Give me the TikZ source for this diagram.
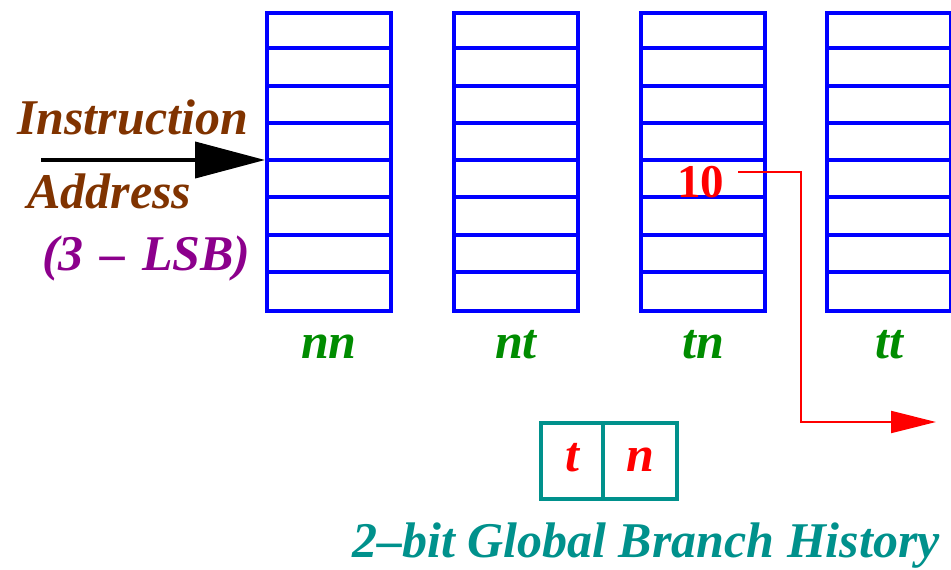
\documentclass[tikz,border=0pt]{standalone}
\usepackage{fontspec}
\setmainfont{Liberation Serif}
\usetikzlibrary{arrows.meta}
\definecolor{tblue}{RGB}{0,0,255}
\definecolor{tbrown}{RGB}{128,51,0}
\definecolor{tpurple}{RGB}{140,0,140}
\definecolor{tgreen}{RGB}{0,140,0}
\definecolor{tteal}{RGB}{0,145,140}
\definecolor{tred}{RGB}{255,0,0}
\tikzset{
  big/.style={font=\fontsize{50}{50}\selectfont\bfseries\itshape, inner sep=0pt},
  tablebox/.style={draw=tblue, line width=4pt, minimum width=124pt, minimum height=298pt, inner sep=0pt, anchor=north west},
  rowline/.style={draw=tblue, line width=4pt},
  lbl/.style={big, text=tgreen, anchor=base},
}
\begin{document}
\begin{tikzpicture}[x=1pt,y=-1pt]
\useasboundingbox (0,0) rectangle (951,570);
% tables
\foreach \nm/\x in {T1/265,T2/452,T3/639,T4/825}{
  \node[tablebox] (\nm) at (\x,11) {};
  \foreach \k in {1,...,7}{
    \draw[rowline] ([yshift=-\k*37.25pt]\nm.north west) -- ([yshift=-\k*37.25pt]\nm.north east);
  }
}
% labels under tables
\node[lbl] (lnn) at (T1.center |- 0,358) {nn};
\node[lbl] (lnt) at (T2.center |- 0,358) {nt};
\node[lbl] (ltn) at (T3.center |- 0,358) {tn};
\node[lbl] (ltt) at (T4.center |- 0,358) {tt};
% instruction address
\node[big, text=tbrown, anchor=base west] (instr) at (17,134) {Instruction};
\node[big, text=tbrown, anchor=base west] (addr) at (27,208) {Address};
\node[big, text=tpurple, anchor=base west] (lsb) at (42,270) {(3\,\,--\,\,LSB)};
\coordinate (astart) at (41,160);
\draw[line width=4pt, -{Triangle[length=70pt,width=36pt]}] (astart) -- ([yshift=-4*37.25pt]T1.north west);
% value 10
\node[font=\fontsize{47}{47}\selectfont\bfseries, text=tred, inner sep=0pt, anchor=base west] (ten) at (677,197) {10};
\coordinate (rs) at (738,172);
\coordinate (re) at (936,422);
\draw[tred, line width=2pt, -{Triangle[length=45pt,width=22pt]}] (rs) -- (801,172) |- (re);
% history register
\node[draw=tteal, line width=4pt, minimum width=62pt, minimum height=76pt, inner sep=0pt, anchor=north west] (hl) at (539,421) {};
\node[draw=tteal, line width=4pt, minimum width=74pt, minimum height=76pt, inner sep=0pt, anchor=north west] (hr) at (601,421) {};
\node[big, text=tred, anchor=base] (ht) at (572,471) {t};
\node[big, text=tred, anchor=base] (hn) at (640,471) {n};
\node[big, text=tteal, anchor=base west] (hist) at (352,557) {2--bit Global Branch History};
\end{tikzpicture}
\end{document}
